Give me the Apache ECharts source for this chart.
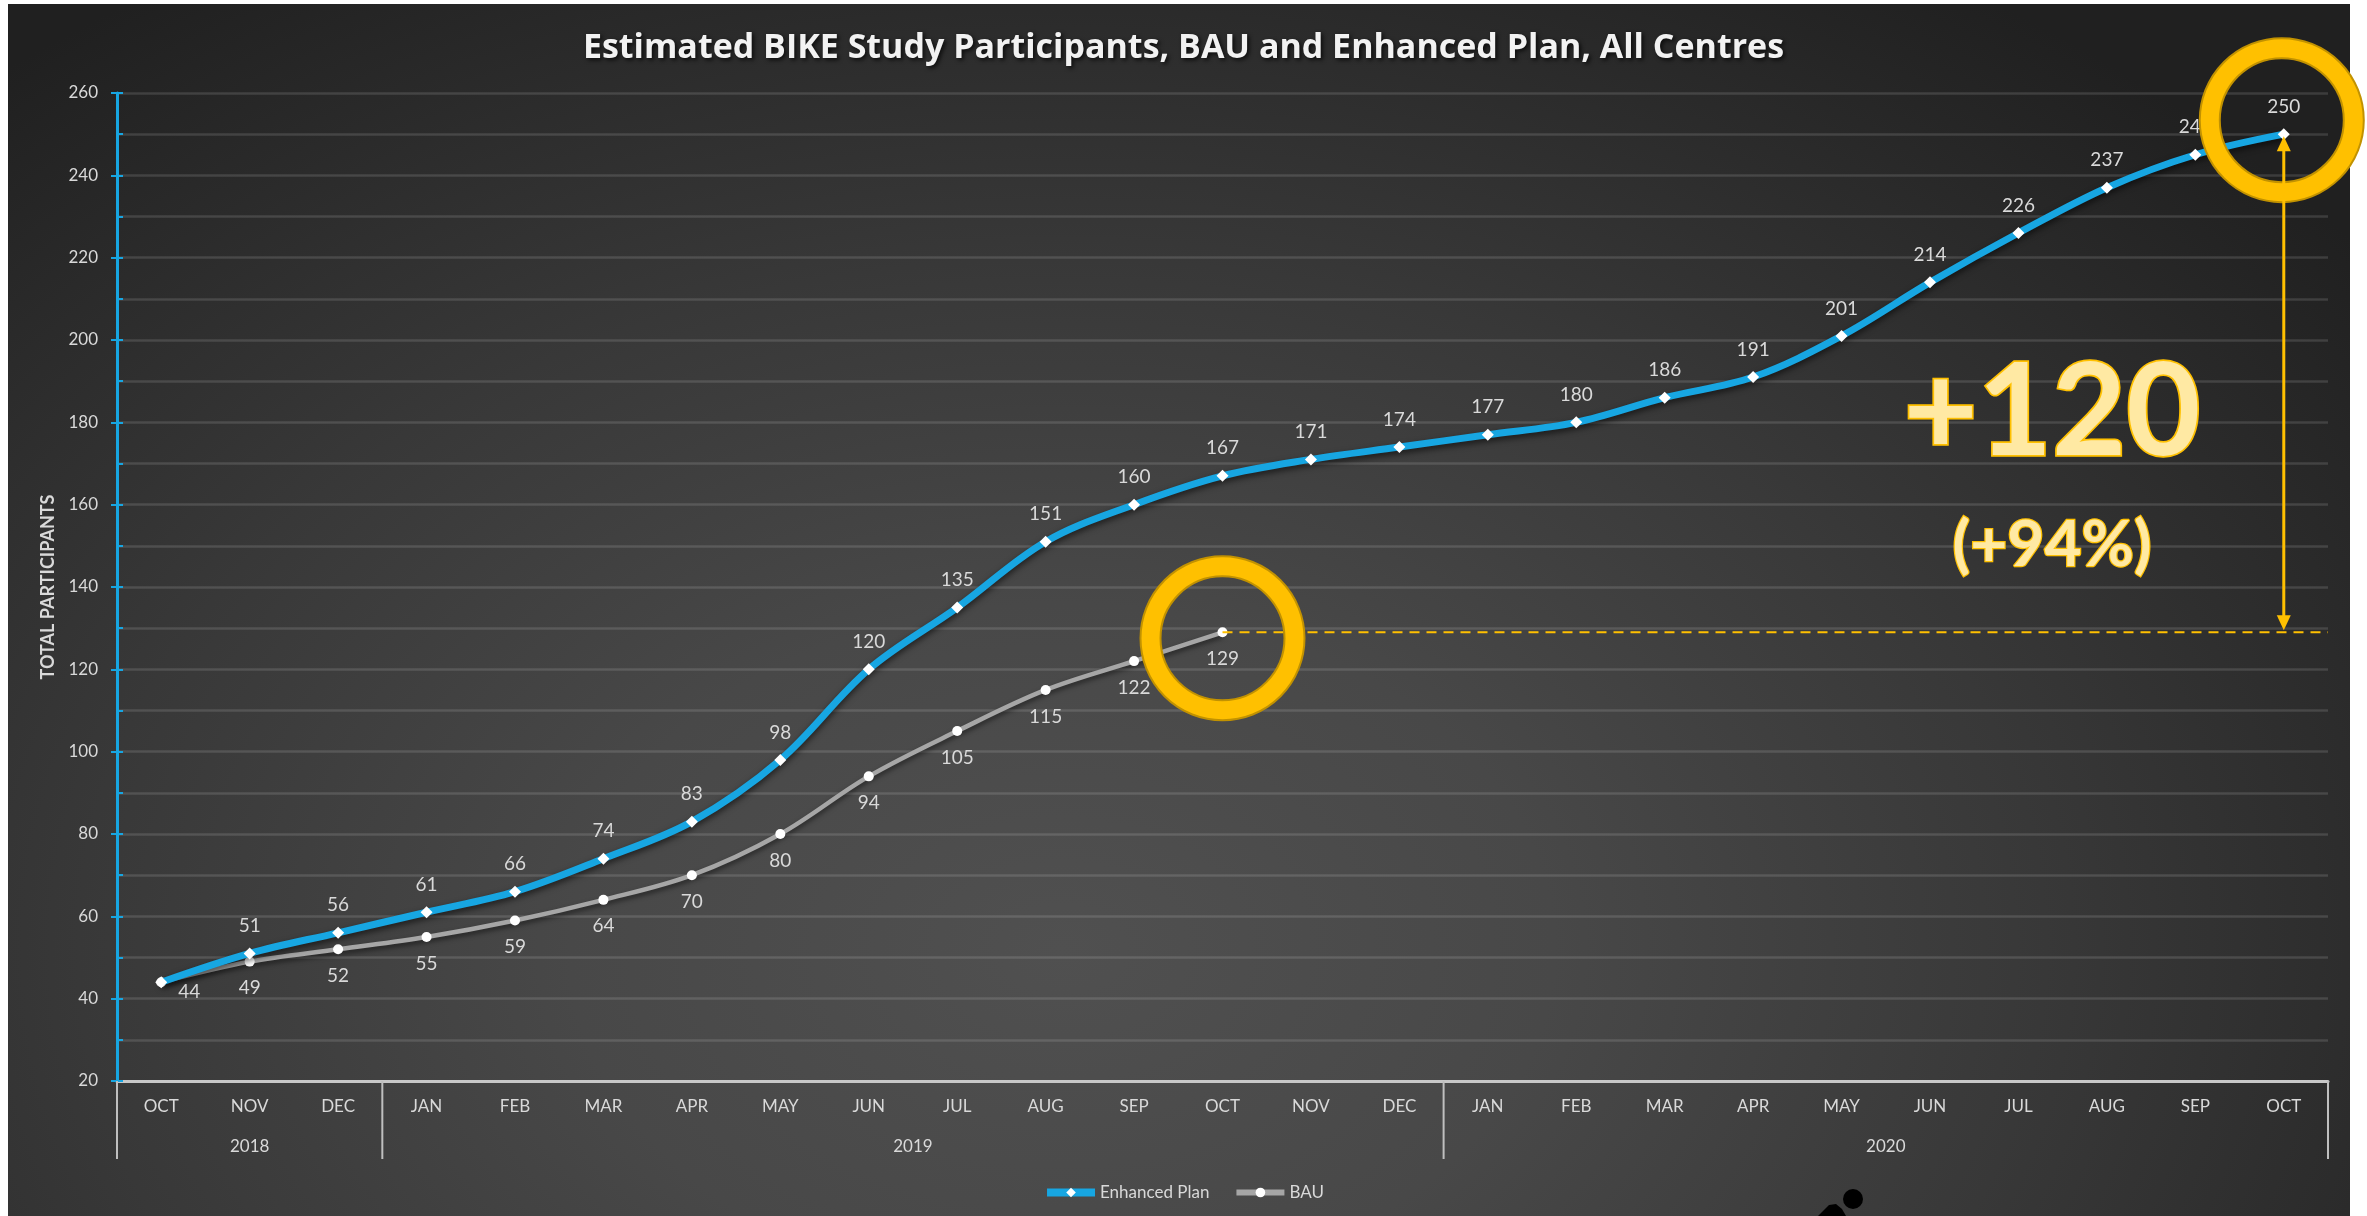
<!DOCTYPE html>
<html><head><meta charset="utf-8">
<script src="https://cdn.jsdelivr.net/npm/echarts@6/dist/echarts.min.js"></script>
<style>
html,body{margin:0;padding:0;background:#fff;width:2367px;height:1216px;overflow:hidden;}
#bg{position:absolute;left:8px;top:4px;width:2342px;height:1212px;
 background: radial-gradient(ellipse 70% 95% at 45% 78%, #505050 0%, #484848 30%, #383838 60%, #262626 90%, #202020 100%);}
#chart{position:absolute;left:0;top:0;width:2367px;height:1216px;}
</style></head><body>
<div id="bg"></div><div id="chart"></div>
<script>
// ---- data ----
const months = ['OCT','NOV','DEC','JAN','FEB','MAR','APR','MAY','JUN','JUL','AUG','SEP','OCT','NOV','DEC','JAN','FEB','MAR','APR','MAY','JUN','JUL','AUG','SEP','OCT'];
const years = ['2018','2018','2018','2019','2019','2019','2019','2019','2019','2019','2019','2019','2019','2019','2019','2020','2020','2020','2020','2020','2020','2020','2020','2020','2020'];
const enhancedPlan = [44,51,56,61,66,74,83,98,120,135,151,160,167,171,174,177,180,186,191,201,214,226,237,245,250];
const bau = [44,49,52,55,59,64,70,80,94,105,115,122,129];
const yMin = 20, yMax = 260, yStep = 20;
const titleText = 'Estimated BIKE Study Participants, BAU and Enhanced Plan, All Centres';
const gainText = '+120';
const gainPctText = '(+94%)';

const BLUE = '#17a6e2', GREY = '#a6a6a6', GOLD = '#FFC000', TXT = '#d9d9d9';
const categories = months.map((m, i) => m + ' ' + years[i]);

const enhancedData = enhancedPlan.map((v, i) => i === 0 ? { value: v, label: { show: false } } : v);
const bauData = bau.map((v, i) => i === 0 ? { value: v, label: { position: 'right', distance: 12, offset: [0, 10] } } : v);

const chart = echarts.init(document.getElementById('chart'), null, { renderer: 'canvas' });
const gridLine = { color: 'rgba(255,255,255,0.13)', width: 2.5 };
const option = {
  animation: false,
  backgroundColor: 'transparent',
  title: {
    text: titleText, left: 'center', top: 26,
    textStyle: { color: '#f2f2f2', fontSize: 34, fontWeight: 'bold', fontFamily: 'Open Sans',
      textShadowColor: 'rgba(0,0,0,0.75)', textShadowBlur: 4, textShadowOffsetX: 2, textShadowOffsetY: 2 }
  },
  legend: {
    left: 'center', top: 1179, itemWidth: 48, itemHeight: 12, itemGap: 24,
    textStyle: { color: TXT, fontSize: 17, fontFamily: 'Lato' },
    data: [{ name: 'Enhanced Plan', lineStyle: { width: 8 } }, { name: 'BAU', lineStyle: { width: 6 } }]
  },
  grid: { left: 117, right: 39, top: 93, bottom: 135, containLabel: false },
  xAxis: {
    type: 'category', data: categories, boundaryGap: true,
    axisLine: { lineStyle: { color: '#c8c8c8', width: 3 } },
    axisTick: { show: false },
    axisLabel: { formatter: (v, i) => months[i], color: TXT, fontSize: 17, fontFamily: 'Lato', margin: 17, interval: 0 },
    splitLine: { show: false }
  },
  yAxis: [{
    type: 'value', min: yMin, max: yMax, interval: yStep, position: 'left',
    name: 'TOTAL PARTICIPANTS', nameLocation: 'middle', nameGap: 58,
    nameTextStyle: { color: TXT, fontWeight: 'bold', fontSize: 18, fontFamily: 'Lato' },
    axisLine: { show: true, lineStyle: { color: BLUE, width: 3 } },
    axisTick: { show: true, length: 6, lineStyle: { color: BLUE, width: 2 } },
    axisLabel: { color: TXT, fontSize: 17, fontFamily: 'Lato', margin: 19 },
    splitLine: { show: true, lineStyle: gridLine },
    minorTick: { show: false, splitNumber: 2 },
    minorSplitLine: { show: true, lineStyle: gridLine }
  }, {
    type: 'value', min: yMin, max: yMax, interval: yStep / 2, position: 'left',
    axisLine: { show: false },
    axisTick: { show: true, inside: true, length: 6, lineStyle: { color: BLUE, width: 2 } },
    axisLabel: { show: false }, splitLine: { show: false }
  }],
  series: [{
    name: 'Enhanced Plan', type: 'line', data: enhancedData, smooth: 0.35, yAxisIndex: 0,
    symbol: 'diamond', symbolSize: 12, z: 4,
    itemStyle: { color: '#ffffff', borderWidth: 0 },
    lineStyle: { color: BLUE, width: 7, shadowColor: 'rgba(0,0,0,0.6)', shadowBlur: 6, shadowOffsetY: 3 },
    label: { show: true, position: 'top', distance: 12, color: TXT, fontSize: 19, fontFamily: 'Lato' },
    emphasis: { disabled: true }
  }, {
    name: 'BAU', type: 'line', data: bauData, smooth: 0.35, yAxisIndex: 0,
    symbol: 'circle', symbolSize: 10, z: 3,
    itemStyle: { color: '#ffffff', borderWidth: 0 },
    lineStyle: { color: GREY, width: 4.5, shadowColor: 'rgba(0,0,0,0.5)', shadowBlur: 5, shadowOffsetY: 3 },
    label: { show: true, position: 'bottom', distance: 12, color: TXT, fontSize: 19, fontFamily: 'Lato' },
    emphasis: { disabled: true }
  }]
};
chart.setOption(option);

function buildGraphic() {
  const p = (i, v) => chart.convertToPixel({ xAxisIndex: 0, yAxisIndex: 0 }, [i, v]);
  const x0 = p(0, yMin)[0];
  const band = p(1, yMin)[0] - x0;
  const yBase = p(0, yMin)[1];
  const leftEdge = x0 - band / 2;
  const rightEdge = leftEdge + categories.length * band;
  const els = [];
  const groups = [];
  years.forEach((y, i) => {
    const g = groups[groups.length - 1];
    if (!g || g.year !== y) groups.push({ year: y, start: i, end: i }); else g.end = i;
  });
  const bounds = new Set([0, years.length]);
  groups.forEach(g => { bounds.add(g.start); bounds.add(g.end + 1); });
  bounds.forEach(b => {
    const x = leftEdge + b * band;
    els.push({ type: 'line', z: 1, shape: { x1: x, y1: yBase, x2: x, y2: yBase + 78 }, style: { stroke: '#bfbfbf', lineWidth: 2 } });
  });
  groups.forEach(g => {
    const cx = leftEdge + (g.start + g.end + 1) / 2 * band;
    els.push({ type: 'text', z: 1, style: { text: g.year, x: cx, y: yBase + 66, align: 'center', verticalAlign: 'middle', fill: TXT, font: '17px Lato' } });
  });
  const pb = p(bau.length - 1, bau[bau.length - 1]);
  const pe = p(enhancedPlan.length - 1, enhancedPlan[enhancedPlan.length - 1]);
  els.push({ type: 'line', z: 5, shape: { x1: pb[0], y1: pb[1], x2: rightEdge, y2: pb[1] }, style: { stroke: GOLD, lineWidth: 2, lineDash: [10, 7] } });
  els.push({ type: 'ring', z: 50, shape: { cx: pb[0], cy: pb[1] + 6, r: 82, r0: 62 }, style: { fill: GOLD, stroke: '#c29200', lineWidth: 2 } });
  els.push({ type: 'ring', z: 50, shape: { cx: pe[0] - 2, cy: pe[1] - 14, r: 82, r0: 62 }, style: { fill: GOLD, stroke: '#c29200', lineWidth: 2 } });
  const ax = pe[0];
  els.push({ type: 'line', z: 60, shape: { x1: ax, y1: pe[1] + 10, x2: ax, y2: pb[1] - 10 }, style: { stroke: GOLD, lineWidth: 3 } });
  els.push({ type: 'polygon', z: 60, shape: { points: [[ax, pe[1] + 2], [ax - 7, pe[1] + 17], [ax + 7, pe[1] + 17]] }, style: { fill: GOLD } });
  els.push({ type: 'polygon', z: 60, shape: { points: [[ax, pb[1] - 2], [ax - 7, pb[1] - 17], [ax + 7, pb[1] - 17]] }, style: { fill: GOLD } });
  const tx = ax - 2.62 * band;
  els.push({ type: 'text', z: 70, style: { text: gainText, x: tx, y: p(0, 182)[1], align: 'center', verticalAlign: 'middle', font: 'bold 128px Lato', fill: '#ffe9a3', stroke: GOLD, lineWidth: 3.5 } });
  els.push({ type: 'text', z: 70, style: { text: gainPctText, x: tx, y: p(0, 150)[1], align: 'center', verticalAlign: 'middle', font: 'bold 64px Lato', fill: '#ffe9a3', stroke: GOLD, lineWidth: 2.5 } });
  els.push({ type: 'circle', z: 80, shape: { cx: 1853, cy: 1199, r: 10 }, style: { fill: '#000' } });
  els.push({ type: 'polygon', z: 80, shape: { points: [[1818, 1216], [1829, 1205], [1836, 1204], [1842, 1209], [1846, 1216]] }, style: { fill: '#000' } });
  chart.setOption({ graphic: { elements: els } });
}
buildGraphic();
</script>
</body></html>
